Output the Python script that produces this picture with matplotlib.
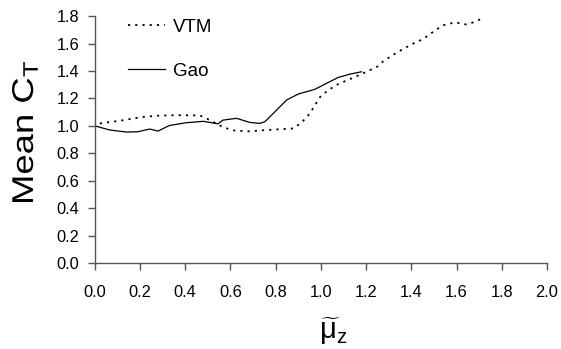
import numpy as np
import matplotlib.pyplot as plt
from matplotlib.textpath import TextPath
from matplotlib.patches import PathPatch
from matplotlib.font_manager import FontProperties
from matplotlib.transforms import Affine2D, IdentityTransform

plt.rcParams['font.family'] = 'Liberation Sans'
plt.rcParams['mathtext.fontset'] = 'custom'
plt.rcParams['mathtext.rm'] = 'Liberation Sans'
plt.rcParams['mathtext.it'] = 'Liberation Sans'

# mean thrust coefficient vs normalised climb ratio
vtm_mu = [0.022, 0.11, 0.2, 0.272, 0.361, 0.465, 0.509, 0.568, 0.612, 0.686, 0.76, 0.877,
          0.914, 0.951, 0.996, 1.032, 1.077, 1.136, 1.202, 1.254, 1.276, 1.335, 1.401,
          1.453, 1.497, 1.538, 1.593, 1.642, 1.674, 1.704, 1.723]
vtm_ct = [1.018, 1.037, 1.062, 1.074, 1.078, 1.076, 1.042, 0.99, 0.967, 0.96, 0.97, 0.981,
          1.023, 1.09, 1.21, 1.26, 1.305, 1.346, 1.394, 1.435, 1.472, 1.533, 1.594,
          1.633, 1.686, 1.732, 1.754, 1.739, 1.754, 1.776, 1.783]

gao_mu = [0.0, 0.066, 0.14, 0.19, 0.243, 0.28, 0.33, 0.405, 0.48, 0.545, 0.567, 0.627,
          0.686, 0.73, 0.752, 0.789, 0.848, 0.9, 0.973, 1.025, 1.077, 1.128, 1.18]
gao_ct = [1.0, 0.97, 0.955, 0.957, 0.977, 0.962, 1.003, 1.023, 1.033, 1.015, 1.042, 1.055,
          1.025, 1.018, 1.03, 1.09, 1.188, 1.232, 1.266, 1.31, 1.353, 1.377, 1.394]

fig = plt.figure(figsize=(5.61, 3.49), dpi=100)
ax = fig.add_axes([0.169, 0.246, 0.806, 0.708])

ax.plot(vtm_mu, vtm_ct, color='black', lw=1.3, linestyle=(0, (1.2, 2.8)), label='VTM')
ax.plot(gao_mu, gao_ct, color='black', lw=0.9, label='Gao')

ax.set_xlim(0, 2.0)
ax.set_ylim(0, 1.8)
ax.set_xticks(np.arange(0, 2.01, 0.2))
ax.set_yticks(np.arange(0, 1.81, 0.2))
ax.xaxis.set_major_formatter(plt.FormatStrFormatter('%.1f'))
ax.yaxis.set_major_formatter(plt.FormatStrFormatter('%.1f'))

for s in ['top', 'right']:
    ax.spines[s].set_visible(False)
for s in ['left', 'bottom']:
    ax.spines[s].set_color('#555555')
    ax.spines[s].set_linewidth(1.0)
ax.tick_params(direction='out', length=5, width=1, color='#555555',
               labelsize=11.8, pad=6)
ax.tick_params(axis='x', pad=11)

ax.set_xlabel(r'$\widetilde{\mathrm{\mu}}_\mathrm{z}$', fontsize=21)
ax.xaxis.set_label_coords(0.527, -0.212)

# y label drawn as a path so it can be stretched along its length
tp = TextPath((0, 0), r'Mean C$_\mathrm{T}$', size=30,
              prop=FontProperties(family='Liberation Sans'))
ext = tp.get_extents()
sx = 140 / ext.width
tr = (Affine2D().translate(-ext.x0, 0).scale(sx, 1)
      .rotate_deg(90).translate(33, 147))
fig.add_artist(PathPatch(tr.transform_path(tp), facecolor='black', lw=0,
                         transform=IdentityTransform()))

ax.legend(loc='upper left', bbox_to_anchor=(0.035, 1.058), frameon=False,
          fontsize=13.5, labelspacing=1.45, handlelength=2.0, handletextpad=0.4)

fig.savefig('out.png', dpi=100)
